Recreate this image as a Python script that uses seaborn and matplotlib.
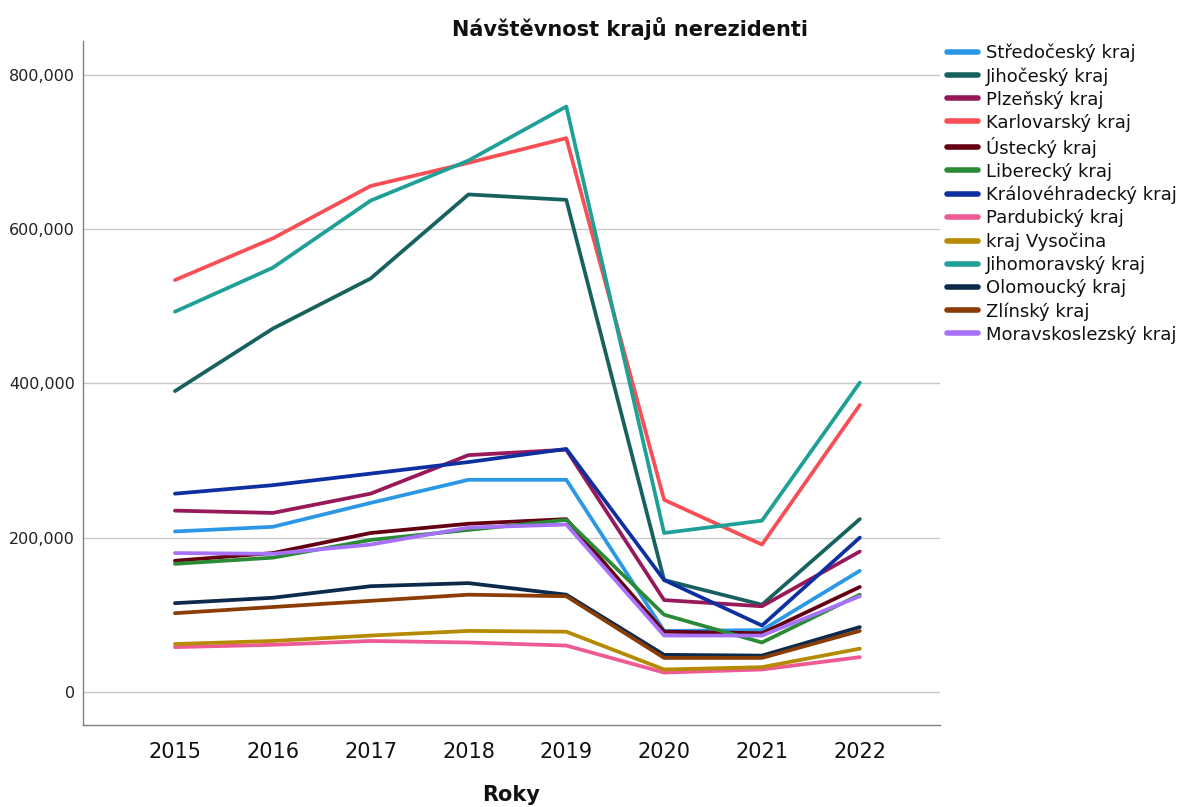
import matplotlib
matplotlib.use("Agg")
import matplotlib.pyplot as plt
import matplotlib.ticker as mticker
import seaborn as sns
import pandas as pd

years = [2015, 2016, 2017, 2018, 2019, 2020, 2021, 2022]

regions = ["Středočeský kraj", "Jihočeský kraj", "Plzeňský kraj", "Karlovarský kraj",
           "Ústecký kraj", "Liberecký kraj", "Královéhradecký kraj", "Pardubický kraj",
           "kraj Vysočina", "Jihomoravský kraj", "Olomoucký kraj", "Zlínský kraj",
           "Moravskoslezský kraj"]

stredocesky = [208000, 214000, 245000, 275000, 275000, 79000, 80000, 157000]
jihocesky = [390000, 471000, 536000, 645000, 638000, 145000, 113000, 224000]
plzensky = [235000, 232000, 257000, 307000, 314000, 119000, 111000, 182000]
karlovarsky = [534000, 588000, 656000, 686000, 718000, 249000, 191000, 372000]
ustecky = [170000, 180000, 206000, 218000, 224000, 78000, 76000, 136000]
liberecky = [166000, 174000, 197000, 210000, 223000, 100000, 64000, 126000]
kralovehradecky = [257000, 268000, 283000, 298000, 315000, 145000, 86000, 200000]
pardubicky = [58000, 61000, 66000, 64000, 60000, 25000, 29000, 45000]
vysocina = [62000, 66000, 73000, 79000, 78000, 29000, 32000, 56000]
jihomoravsky = [493000, 550000, 637000, 689000, 759000, 206000, 222000, 401000]
olomoucky = [115000, 122000, 137000, 141000, 126000, 48000, 47000, 84000]
zlinsky = [102000, 110000, 118000, 126000, 124000, 44000, 44000, 79000]
moravskoslezsky = [180000, 179000, 191000, 213000, 217000, 73000, 73000, 124000]

series = [stredocesky, jihocesky, plzensky, karlovarsky, ustecky, liberecky,
          kralovehradecky, pardubicky, vysocina, jihomoravsky, olomoucky,
          zlinsky, moravskoslezsky]

colors = ["#2B98E6", "#17625E", "#98195A", "#F74F55", "#650013", "#2A8A36",
          "#0E2FA0", "#EE5A93", "#B68A00", "#1EA097", "#0B2A4C", "#8A3C05",
          "#A772FA"]

rows = []
for reg, vals in zip(regions, series):
    for y, v in zip(years, vals):
        rows.append({"Roky": str(y), "Návštěvnost": v, "Kraj": reg})
df = pd.DataFrame(rows)

sns.set_style("white")
plt.rcParams["font.family"] = ["DejaVu Sans"]

fig = plt.figure(figsize=(11.89, 8.07), dpi=100)
ax = fig.add_axes([0.0698, 0.1016, 0.7208, 0.8476])

sns.lineplot(data=df, x="Roky", y="Návštěvnost", hue="Kraj", hue_order=regions,
             palette=dict(zip(regions, colors)), linewidth=2.7, ax=ax,
             sort=False, legend=True)

ax.set_xlim(-0.94, 7.82)
ax.set_ylim(-43000, 844000)
ax.set_yticks([0, 200000, 400000, 600000, 800000])
ax.yaxis.set_major_formatter(mticker.FuncFormatter(lambda v, p: f"{int(v):,}"))
ax.grid(axis="y", color="#C8C8C8", linewidth=1.0)
ax.grid(axis="x", visible=False)
ax.set_axisbelow(True)
for s in ["top", "right"]:
    ax.spines[s].set_visible(False)
for s in ["left", "bottom"]:
    ax.spines[s].set_color("#808080")
    ax.spines[s].set_linewidth(1.0)
ax.tick_params(axis="x", length=0, labelsize=15, pad=12, colors="#111111")
ax.tick_params(axis="y", length=0, labelsize=11.5, pad=6, colors="#222222")
ax.set_xlabel("Roky", fontsize=15, fontweight="bold", labelpad=17, color="#111111")
ax.set_ylabel("")
fig.text(0.53, 0.965, "Návštěvnost krajů nerezidenti", fontsize=15,
         fontweight="bold", ha="center", va="center", color="#111111")

handles, labels = ax.get_legend_handles_labels()
ax.legend(handles, labels, loc="upper left", bbox_to_anchor=(0.79, 0.955),
          bbox_transform=fig.transFigure, frameon=False, fontsize=13,
          labelspacing=0.28, handlelength=1.75, handletextpad=0.45, borderaxespad=0,
          labelcolor="#111111")
for ln in ax.get_legend().get_lines():
    ln.set_linewidth(4)

fig.savefig("out.png", dpi=100)
